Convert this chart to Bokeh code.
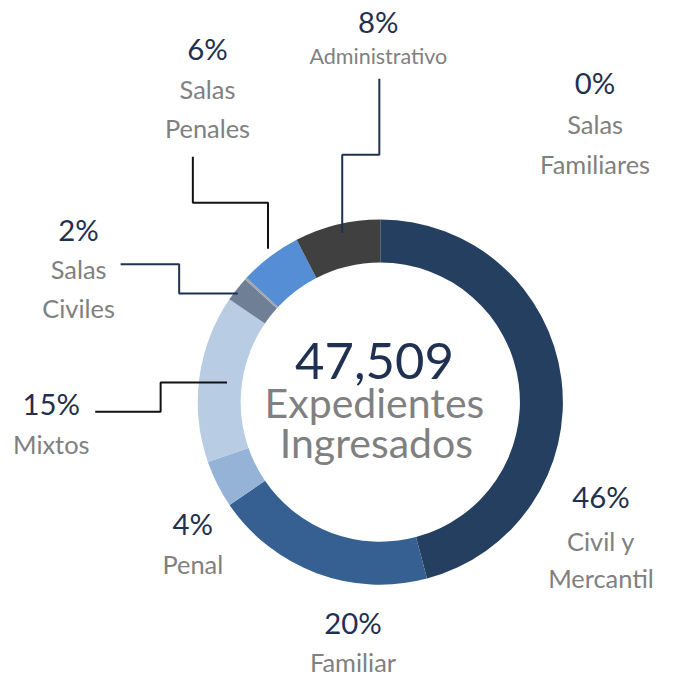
import math
from bokeh.plotting import figure
from bokeh.models import Range1d, ColumnDataSource
from bokeh.embed import file_html
from bokeh.resources import INLINE
from bokeh.core.properties import value

# ---- data ----
categories = ["Civil y Mercantil", "Familiar", "Penal", "Mixtos",
              "Salas Civiles", "Salas Familiares", "Salas Penales", "Administrativo"]
counts = [21800, 9300, 2000, 7050, 1050, 90, 2620, 3599]
name_lines = [["Civil y", "Mercantil"], ["Familiar"], ["Penal"], ["Mixtos"],
              ["Salas", "Civiles"], ["Salas", "Familiares"], ["Salas", "Penales"],
              ["Administrativo"]]
center_caption = ["Expedientes", "Ingresados"]

# ---- styles / layout ----
colors = ["#243F60", "#366092", "#95B3D7", "#B8CCE4",
          "#6F7F96", "#A6A6A6", "#558ED5", "#404040"]
NAVY = "#1F3050"
GRAY = "#808080"
FONT = "Lato"
W_REF, H_REF = 677, 696      # reference canvas in pixels
W_FIG, H_FIG = 661, 680      # figure size
S = H_FIG / H_REF            # font scale
BASE_FIX = 0.35              # baseline correction (em) for the svg text renderer

def fs(px):
    return f"{px * S:.1f}px"

def ty(baseline, size):
    # data y for a text whose glyph baseline should sit at reference pixel row `baseline`
    return H_REF - baseline + BASE_FIX * size

cx, cy = 389, H_REF - 411
R_OUT, R_IN = 187, 143

# label layout: (center x, percent baseline, [name baselines], name font size)
label_layout = [
    (615, 518, [562, 600], 26),
    (361, 647, [686], 26),
    (197, 546, [586], 26),
    (52, 423, [463], 26),
    (80, 245, [284, 324], 26),
    (609, 94, [135, 176], 26),
    (212, 60, [100, 140], 26),
    (387, 32, [64], 22),
]
PCT_SIZE = 30

leaders = [
    ([388, 388, 350, 350], [80, 158, 158, 238], NAVY),       # Administrativo
    ([197, 197, 274, 274], [160, 207, 207, 254], "#111111"),  # Salas Penales
    ([123, 183, 183, 243], [270, 270, 300, 300], NAVY),       # Salas Civiles
    ([97, 164, 164, 232], [421, 421, 391, 391], "#111111"),   # Mixtos
]

p = figure(width=W_FIG, height=H_FIG, x_range=Range1d(0, W_REF), y_range=Range1d(0, H_REF),
           output_backend="svg", toolbar_location=None, min_border=0)
p.axis.visible = False
p.grid.visible = False
p.outline_line_color = None
p.background_fill_color = "white"

total = sum(counts)
starts, ends = [], []
acc = 0
for c in counts:
    starts.append(math.pi / 2 - 2 * math.pi * acc / total)
    acc += c
    ends.append(math.pi / 2 - 2 * math.pi * acc / total)

src = ColumnDataSource(dict(start=starts, end=ends, color=colors, cat=categories))
p.annular_wedge(x=cx, y=cy, inner_radius=R_IN, outer_radius=R_OUT,
                start_angle="start", end_angle="end", direction="clock",
                fill_color="color", line_color=None, source=src)

for xs, ys, col in leaders:
    p.line(xs, [H_REF - v for v in ys], line_color=col, line_width=2)

def put(x, baseline, txt, size, color):
    p.text(x=[x], y=[ty(baseline, size)], text=[txt], text_align="center",
           text_baseline="alphabetic", text_font=value(FONT),
           text_font_size=fs(size), text_color=color)

for i, (lx, pb, nbs, nsize) in enumerate(label_layout):
    put(lx, pb, f"{round(100 * counts[i] / total)}%", PCT_SIZE, NAVY)
    for line, b in zip(name_lines[i], nbs):
        put(lx, b, line, nsize, GRAY)

put(383, 387, f"{total:,}", 52, NAVY)
put(383, 426, center_caption[0], 42, GRAY)
put(385, 467, center_caption[1], 42, GRAY)

open("out.html", "w").write(file_html(p, INLINE))
